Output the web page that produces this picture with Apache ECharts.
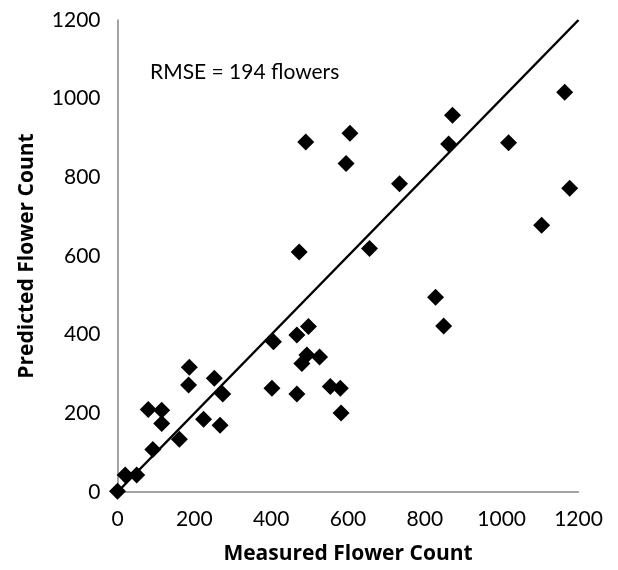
<!DOCTYPE html>
<html>
<head>
<meta charset="utf-8">
<script src="https://cdn.jsdelivr.net/npm/echarts@6/dist/echarts.min.js"></script>
<style>
  html, body { margin: 0; padding: 0; background: #fff; }
  #chart { width: 618px; height: 570px; }
</style>
</head>
<body>
<div id="chart"></div>
<script>
// measured vs predicted flower counts
const measured = [0, 20, 50, 92, 80, 115, 115, 161, 187, 185, 224, 252, 267, 274,
  402, 406, 467, 467, 473, 480, 493, 497, 526, 554, 580, 582, 490, 595, 605,
  656, 734, 828, 849, 862, 872, 1018, 1104, 1164, 1177]
const predicted = [2, 43, 43, 108, 210, 208, 174, 134, 317, 272, 185, 289, 170, 249,
  264, 382, 399, 249, 610, 327, 348, 421, 343, 268, 264, 201, 890, 835, 912,
  619, 784, 495, 422, 885, 958, 888, 678, 1016, 772]
// 1:1 line
const lineX = [0, 1200]
const lineY = [0, 1200]
const rmseLabel = 'RMSE = 194 flowers'

const font = 'Lato, "Open Sans", sans-serif'
const titleFont = '"Open Sans", Lato, sans-serif'
const myChart = echarts.init(document.getElementById('chart'))

// plain numbers, no thousands separator
const plain = (v) => String(v)

const option = {
  animation: false,
  backgroundColor: '#fff',
  // fixed plot box, don't let v6 shrink it for the axis names
  grid: { left: 117.5, right: 39.5, top: 20, bottom: 78, outerBoundsMode: 'none' },
  xAxis: {
    type: 'value',
    min: 0,
    max: 1200,
    interval: 200,
    name: 'Measured Flower Count',
    nameLocation: 'middle',
    nameGap: 52,
    nameTextStyle: { fontFamily: titleFont, fontSize: 21, fontWeight: 'bold', color: '#000' },
    axisLine: { show: true, lineStyle: { color: '#868686', width: 1.5 } },
    axisTick: { show: false },
    splitLine: { show: false },
    axisLabel: { margin: 17, fontFamily: font, fontSize: 21, color: '#000', formatter: plain }
  },
  yAxis: {
    type: 'value',
    min: 0,
    max: 1200,
    interval: 200,
    name: 'Predicted Flower Count',
    nameLocation: 'middle',
    nameGap: 80,
    nameTextStyle: { fontFamily: titleFont, fontSize: 21, fontWeight: 'bold', color: '#000' },
    axisLine: { show: true, lineStyle: { color: '#868686', width: 1.5 } },
    axisTick: { show: false },
    splitLine: { show: false },
    axisLabel: { margin: 17, fontFamily: font, fontSize: 21, color: '#000', formatter: plain }
  },
  graphic: [
    {
      type: 'text',
      left: 150,
      top: 62,
      style: { text: rmseLabel, font: '21px ' + font, fill: '#000' }
    }
  ],
  series: [
    {
      type: 'line',
      data: lineX.map((x, i) => [x, lineY[i]]),
      symbol: 'none',
      lineStyle: { color: '#000', width: 2.5 },
      z: 2
    },
    {
      type: 'scatter',
      data: measured.map((x, i) => [x, predicted[i]]),
      symbol: 'diamond',
      symbolSize: [17, 17],
      itemStyle: { color: '#000', opacity: 1 },
      z: 3
    }
  ]
}
myChart.setOption(option)
</script>
</body>
</html>
